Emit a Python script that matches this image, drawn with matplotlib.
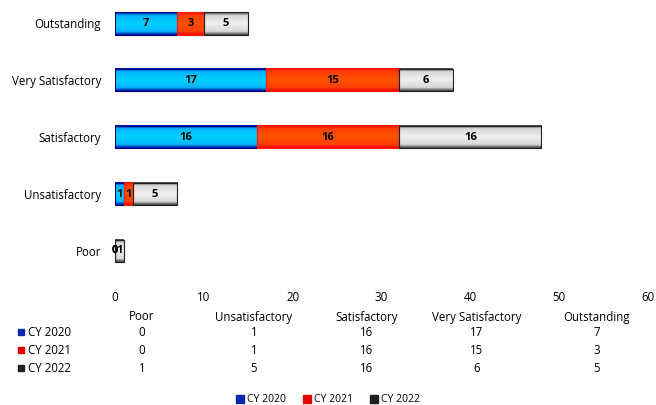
import numpy as np
import matplotlib
matplotlib.use("Agg")
from matplotlib import pyplot as plt
from matplotlib.colors import LinearSegmentedColormap
import matplotlib.patches as mpatches

plt.rcParams['font.family'] = ['Open Sans', 'DejaVu Sans']

categories = ["Poor", "Unsatisfactory", "Satisfactory", "Very Satisfactory", "Outstanding"]
series_names = ["CY 2020", "CY 2021", "CY 2022"]
cy2020 = [0, 1, 16, 17, 7]
cy2021 = [0, 1, 16, 15, 3]
cy2022 = [1, 5, 16, 6, 5]
x_ticks = [0, 10, 20, 30, 40, 50, 60]

# (middle, edge) colours for the shaded bars, plus outline and legend swatch
styles = [
    dict(mid="#00d2ff", mid2="#00b4ff", edge="#0010a0", outline="#000080", swatch="#0828b0"),
    dict(mid="#ff5000", mid2="#ff4000", edge="#ff0000", outline="#ff2000", swatch="#e00000"),
    dict(mid="#f0f0f0", mid2="#d8d8d8", edge="#404040", outline="#202020", swatch="#202020"),
]

FS = 8.3

fig = plt.figure(figsize=(6.56, 4.05), dpi=100)
ax = fig.add_axes([0.175, 0.296, 0.813, 0.689])

y = np.arange(len(categories))
left = np.zeros(len(categories))
grad = np.abs(np.linspace(-1, 1, 60)).reshape(-1, 1)
for vals, name, st in zip([cy2020, cy2021, cy2022], series_names, styles):
    bars = ax.barh(y, vals, left=left, height=0.4, color="none",
                   edgecolor=st["outline"], linewidth=0.8, zorder=3, label=name)
    cmap = LinearSegmentedColormap.from_list(
        name, [(0, st["mid"]), (0.7, st["mid2"]), (1, st["edge"])])
    for rect in bars:
        x0, y0 = rect.get_x(), rect.get_y()
        w, h = rect.get_width(), rect.get_height()
        if w <= 0:
            continue
        ax.imshow(grad, extent=[x0, x0 + w, y0, y0 + h], cmap=cmap,
                  aspect="auto", vmin=0, vmax=1, zorder=2, interpolation="bilinear")
    ax.bar_label(bars, labels=[str(v) for v in vals], label_type="center",
                 fontsize=8, fontweight="bold", color="black", zorder=4)
    left += np.array(vals)

ax.set_xlim(0, 60)
ax.set_ylim(-0.6, 4.3)
ax.set_xticks(x_ticks)
ax.set_yticks(y)
ax.set_yticklabels(categories, fontsize=FS)
ax.tick_params(axis="both", length=0, labelsize=FS)
ax.tick_params(axis="x", pad=4)
ax.tick_params(axis="y", pad=10)
for s in ax.spines.values():
    s.set_visible(False)

# data table under the axis
W, H = 656, 405
col_x = [142, 254, 367, 477, 597]
fx = lambda px: px / W
fy = lambda py: 1 - py / H
for cx, cat in zip(col_x, categories):
    fig.text(fx(cx), fy(317), cat, ha="center", va="center", fontsize=FS)
for row_y, vals, name, st in zip([332, 350, 368], [cy2020, cy2021, cy2022], series_names, styles):
    fig.patches.append(mpatches.Rectangle((fx(18), fy(row_y) - 0.008), 6 / W, 6 / H,
                                          color=st["swatch"], transform=fig.transFigure))
    fig.text(fx(28), fy(row_y), name, ha="left", va="center", fontsize=FS)
    for cx, v in zip(col_x, vals):
        fig.text(fx(cx), fy(row_y), str(v), ha="center", va="center", fontsize=FS)

handles = [mpatches.Patch(color=st["swatch"], label=n) for st, n in zip(styles, series_names)]
fig.legend(handles=handles, loc="center", bbox_to_anchor=(0.5, fy(400)), ncol=3,
           frameon=False, fontsize=7.5, handlelength=0.8, handleheight=0.8,
           handletextpad=0.3, columnspacing=1.6)

fig.savefig("out.png", dpi=100)
